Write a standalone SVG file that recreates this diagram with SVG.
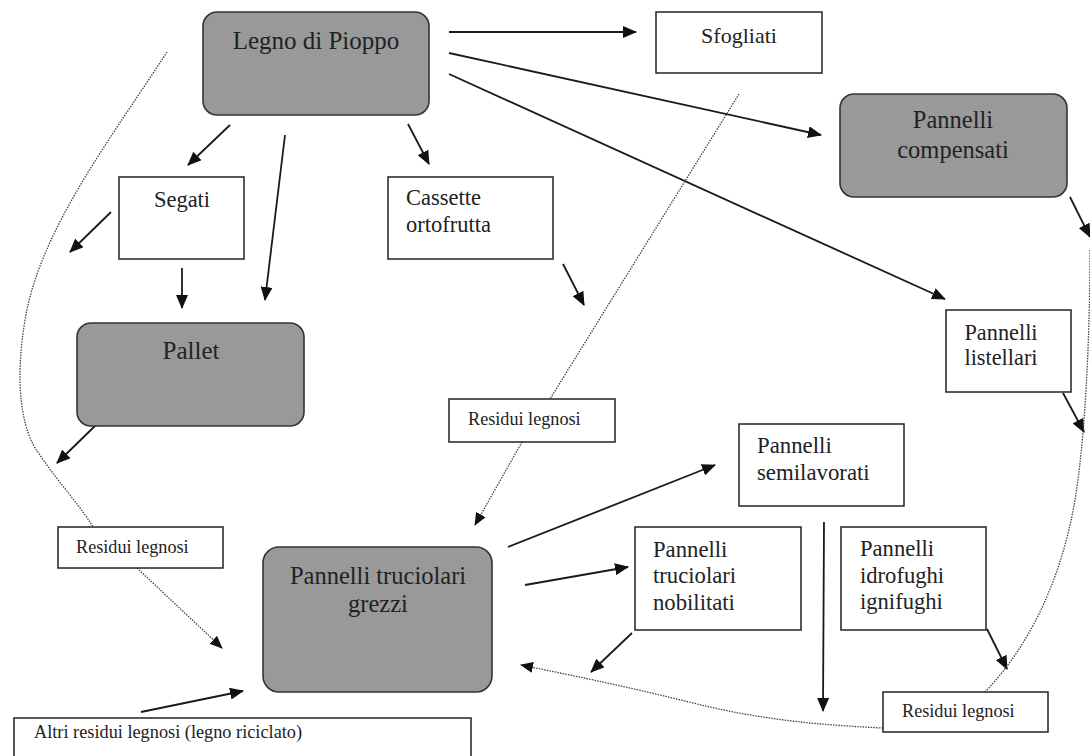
<svg xmlns="http://www.w3.org/2000/svg" width="1090" height="756" viewBox="0 0 1090 756">
<style>
text{font-family:"Liberation Serif","Times New Roman",serif;fill:#222}
.g{fill:#999;stroke:#333;stroke-width:1.6}
.w{fill:#fff;stroke:#222;stroke-width:1.5}
.a{fill:none;stroke:#1a1a1a;stroke-width:1.8}
.d{fill:none;stroke:#444;stroke-width:1.3;stroke-dasharray:1.5 1.2}
</style>
<defs>
<marker id="ah" markerUnits="userSpaceOnUse" markerWidth="14" markerHeight="12" refX="13" refY="6" orient="auto"><path d="M0,0 L14,6 L0,12 z" fill="#111"/></marker>
<marker id="ahd" markerUnits="userSpaceOnUse" markerWidth="13" markerHeight="11" refX="12" refY="5.5" orient="auto"><path d="M0,0 L13,5.5 L0,11 z" fill="#111"/></marker>
</defs>
<rect width="1090" height="756" fill="#fff"/>
<g id="connectors">
<line class="a" x1="449" y1="32" x2="636" y2="32" marker-end="url(#ah)"/>
<line class="a" x1="449" y1="53" x2="821" y2="135" marker-end="url(#ah)"/>
<line class="a" x1="449" y1="74" x2="945" y2="299" marker-end="url(#ah)"/>
<line class="a" x1="230" y1="125" x2="188" y2="165" marker-end="url(#ah)"/>
<line class="a" x1="285" y1="135" x2="265" y2="300" marker-end="url(#ah)"/>
<line class="a" x1="408" y1="124" x2="429" y2="164" marker-end="url(#ah)"/>
<line class="a" x1="111" y1="212" x2="70" y2="252" marker-end="url(#ah)"/>
<line class="a" x1="182" y1="268" x2="182" y2="308" marker-end="url(#ah)"/>
<line class="a" x1="563" y1="264" x2="584" y2="305" marker-end="url(#ah)"/>
<line class="a" x1="1070" y1="197" x2="1090" y2="237" marker-end="url(#ah)"/>
<line class="a" x1="1063" y1="393" x2="1084" y2="432" marker-end="url(#ah)"/>
<line class="a" x1="97" y1="424" x2="57" y2="463" marker-end="url(#ah)"/>
<line class="a" x1="508" y1="547" x2="715" y2="465" marker-end="url(#ah)"/>
<line class="a" x1="525" y1="585" x2="628" y2="567" marker-end="url(#ah)"/>
<line class="a" x1="824" y1="522" x2="823" y2="711" marker-end="url(#ah)"/>
<line class="a" x1="632" y1="633" x2="591" y2="672" marker-end="url(#ah)"/>
<line class="a" x1="987" y1="629" x2="1007" y2="669" marker-end="url(#ah)"/>
<line class="a" x1="141" y1="712" x2="243" y2="691" marker-end="url(#ah)"/>
<path class="d" d="M739,94 L550,399"/>
<path class="d" d="M522,442 L475,525" marker-end="url(#ahd)"/>
<path class="d" d="M167,52 C110,140 40,230 25,320 C15,380 20,430 40,455 C60,485 80,505 93,527"/>
<path class="d" d="M137,568 L222,648" marker-end="url(#ahd)"/>
<path class="d" d="M1090,250 C1090,300 1088,420 1075,500 C1063,570 1035,640 985,692"/>
<path class="d" d="M883,728 C820,725 760,720 689,702 C620,685 570,675 521,665" marker-end="url(#ahd)"/>
</g>
<g id="legno"><rect class="g" x="203" y="12" width="226" height="103" rx="14"/><text x="316" y="49" font-size="25" text-anchor="middle">Legno di Pioppo</text></g>
<g id="sfogliati"><rect class="w" x="656" y="12" width="166" height="61"/><text x="739" y="43" font-size="22" text-anchor="middle">Sfogliati</text></g>
<g id="compensati"><rect class="g" x="840" y="94" width="227" height="103" rx="14"/><text x="953" y="128" font-size="24.5" text-anchor="middle">Pannelli</text><text x="953" y="158" font-size="24.5" text-anchor="middle">compensati</text></g>
<g id="segati"><rect class="w" x="119" y="177" width="125" height="82"/><text x="182" y="207" font-size="22.5" text-anchor="middle">Segati</text></g>
<g id="cassette"><rect class="w" x="388" y="177" width="165" height="82"/><text x="406" y="205" font-size="22.5">Cassette</text><text x="406" y="232" font-size="22.5">ortofrutta</text></g>
<g id="pallet"><rect class="g" x="77" y="323" width="227" height="103" rx="14"/><text x="191" y="359" font-size="25" text-anchor="middle">Pallet</text></g>
<g id="listellari"><rect class="w" x="946" y="310" width="125" height="82"/><text x="1001" y="340" font-size="22.3" text-anchor="middle">Pannelli</text><text x="1001" y="365" font-size="22.3" text-anchor="middle">listellari</text></g>
<g id="residui-mid"><rect class="w" x="449" y="399" width="166" height="43"/><text x="468" y="425" font-size="18.2">Residui legnosi</text></g>
<g id="semilavorati"><rect class="w" x="739" y="424" width="165" height="82"/><text x="757" y="453" font-size="22.8">Pannelli</text><text x="757" y="480" font-size="22.8">semilavorati</text></g>
<g id="residui-left"><rect class="w" x="58" y="527" width="165" height="41"/><text x="76" y="553" font-size="18.2">Residui legnosi</text></g>
<g id="grezzi"><rect class="g" x="263" y="547" width="229" height="145" rx="16"/><text x="378" y="584" font-size="24.5" text-anchor="middle">Pannelli truciolari</text><text x="378" y="612" font-size="24.5" text-anchor="middle">grezzi</text></g>
<g id="nobilitati"><rect class="w" x="635" y="527" width="166" height="103"/><text x="653" y="557" font-size="22.7">Pannelli</text><text x="653" y="583" font-size="22.7">truciolari</text><text x="653" y="610" font-size="22.7">nobilitati</text></g>
<g id="idrofughi"><rect class="w" x="841" y="527" width="145" height="103"/><text x="860" y="556" font-size="22.6">Pannelli</text><text x="860" y="583" font-size="22.6">idrofughi</text><text x="860" y="609" font-size="22.6">ignifughi</text></g>
<g id="residui-right"><rect class="w" x="883" y="692" width="165" height="40"/><text x="902" y="717" font-size="18.2">Residui legnosi</text></g>
<g id="altri"><rect class="w" x="14" y="718" width="457" height="45"/><text x="34" y="738" font-size="18.3">Altri residui legnosi (legno riciclato)</text></g>
</svg>
